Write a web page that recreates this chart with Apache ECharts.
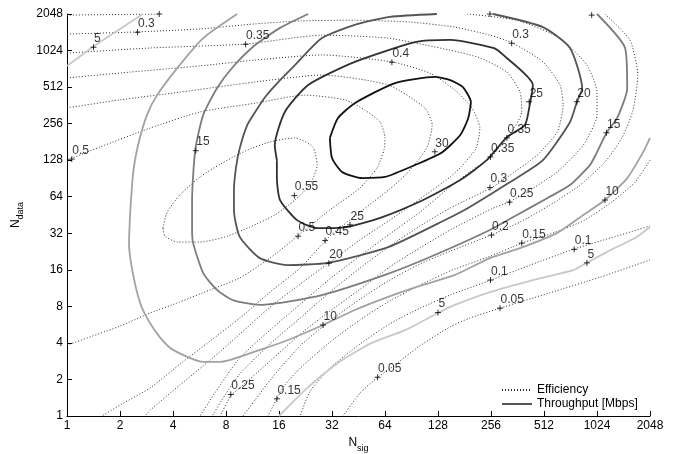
<!DOCTYPE html>
<html>
<head>
<meta charset="utf-8">
<script src="https://cdn.jsdelivr.net/npm/echarts@6/dist/echarts.min.js"></script>
<style>html,body{margin:0;padding:0;background:#fff}#c{width:683px;height:454px}</style>
</head>
<body>
<div id="c"></div>
<script>
// Axis tick labels (axes are in log2 units: value k means 2^k)
const xTickLabels = ['1','2','4','8','16','32','64','128','256','512','1024','2048'];
const yTickLabels = ['1','2','4','8','16','32','64','128','256','512','1024','2048'];

// Throughput contours [log2 Nsig, log2 Ndata]
const thr05a = [[0,9.58],[0.49,10.10],[1.0,10.59],[1.43,11.0]];
const thr05b = [[4.0,0],[4.49,0.71],[5.11,1.45],[5.75,2.0],[6.38,2.35],[7.0,2.82],[7.32,3.04],[7.98,3.39],[8.79,3.72],[9.55,3.99],[9.81,4.19],[10.19,4.49],[10.75,4.90],[11.0,5.17]];
const thr10 = [[3.21,11.0],[2.57,10.34],[2.08,9.52],[1.70,8.78],[1.51,8.24],[1.34,7.41],[1.25,6.68],[1.21,5.97],[1.19,5.50],[1.17,4.73],[1.23,4.0],[1.38,3.09],[1.53,2.63],[1.75,2.16],[2.0,1.81],[2.57,1.48],[2.89,1.48],[3.64,1.81],[4.17,2.08],[4.83,2.49],[5.43,2.90],[6.06,3.26],[6.70,3.58],[7.32,3.86],[7.98,4.32],[8.60,4.62],[9.25,5.01],[9.74,5.50],[10.15,5.91],[10.57,6.51],[10.87,7.22],[11.0,7.61]];
const thr15 = [[4.55,11.0],[4.02,10.62],[3.55,10.15],[3.13,9.55],[2.83,8.97],[2.57,8.24],[2.42,7.28],[2.36,5.91],[2.36,5.09],[2.38,4.73],[2.57,3.91],[2.83,3.45],[3.13,3.17],[3.64,3.04],[4.81,3.31],[6.0,3.86],[6.85,4.35],[7.98,5.09],[8.49,5.50],[9.06,5.96],[9.49,6.32],[9.87,6.87],[10.0,7.22],[10.19,7.77],[10.38,8.15],[10.57,8.97],[10.53,10.07],[10.0,11.0]];
const thr20 = [[6.98,11.0],[6.09,10.92],[5.43,10.70],[4.81,10.34],[4.30,9.60],[4.02,9.19],[3.74,8.73],[3.55,8.32],[3.40,7.96],[3.26,7.33],[3.19,6.81],[3.15,6.18],[3.15,5.64],[3.26,4.90],[3.64,4.32],[4.15,4.13],[4.92,4.19],[6.06,4.62],[7.17,5.39],[7.60,5.72],[8.36,6.40],[8.98,7.0],[9.49,8.04],[9.62,8.59],[9.72,8.97],[9.49,10.07],[8.98,10.64],[8.04,11.0]];
const thr25 = [[3.96,7.0],[3.92,7.41],[4.11,8.32],[4.55,9.06],[5.43,9.69],[6.57,10.23],[7.23,10.29],[8.04,10.07],[8.23,9.88],[8.79,9.06],[8.74,8.59],[8.64,7.96],[8.30,7.63],[7.92,7.0],[7.42,6.46],[6.72,5.91],[5.91,5.42],[5.28,5.17],[4.72,5.14],[4.34,5.36],[4.02,5.91],[3.96,6.51],[3.96,7.0]];
const thr30 = [[4.96,7.61],[5.0,7.06],[5.19,6.68],[5.57,6.51],[6.0,6.54],[6.57,6.87],[7.08,7.22],[7.42,7.69],[7.57,8.15],[7.62,8.59],[7.47,9.0],[7.23,9.19],[6.94,9.28],[6.19,9.11],[5.43,8.56],[5.11,8.15],[4.96,7.61]];

// Efficiency contours [log2 Nsig, log2 Ndata]
const eff055 = [[1.81,5.14],[1.89,5.58],[2.13,6.05],[2.51,6.54],[2.89,6.89],[3.36,7.25],[3.83,7.50],[4.30,7.61],[4.64,7.36],[4.72,6.87],[4.58,6.32],[4.30,5.91],[3.92,5.50],[3.45,5.17],[2.98,4.90],[2.51,4.76],[2.08,4.76],[1.85,4.92],[1.81,5.14]];
const eff050 = [[0,1.94],[1.0,2.46],[1.57,2.82],[2.13,3.12],[2.70,3.45],[3.26,3.78],[3.83,4.32],[4.40,4.98],[4.96,5.64],[5.53,6.24],[5.85,6.79],[5.98,7.28],[6.0,7.61],[5.91,8.04],[5.62,8.37],[5.25,8.65],[4.49,8.78],[3.55,8.56],[2.51,8.32],[1.57,7.88],[0.62,7.36],[0,7.0]];
const eff045 = [[0,8.43],[1.0,8.65],[2.13,8.86],[3.55,9.14],[4.81,9.33],[6.06,9.06],[6.75,8.43],[6.89,7.96],[6.81,7.41],[6.66,7.06],[6.38,6.59],[6.09,6.21],[5.53,5.58],[4.96,4.92],[4.40,4.05],[3.83,3.39],[3.26,2.68],[2.70,2.05],[2.13,1.42],[1.57,0.77],[1.0,0.30],[0.66,0]];
const eff040 = [[0,9.25],[1.19,9.41],[2.51,9.58],[3.55,9.74],[4.81,9.88],[6.13,9.69],[6.85,9.38],[7.32,8.92],[7.64,8.43],[7.79,7.88],[7.72,7.33],[7.45,6.84],[7.23,6.54],[6.66,5.94],[6.09,5.36],[5.53,4.82],[4.96,4.21],[4.40,3.61],[3.83,2.98],[3.26,2.24],[2.70,1.53],[2.13,0.85],[1.57,0.16],[1.47,0]];
const eff035 = [[0,9.93],[1.57,10.07],[3.38,10.18],[4.81,10.42],[6.06,10.34],[7.23,10.01],[7.79,9.80],[8.30,9.41],[8.55,8.86],[8.58,8.32],[8.45,7.91],[8.30,7.61],[8.0,7.09],[7.60,6.68],[7.23,6.27],[6.66,5.58],[6.09,4.98],[5.53,4.38],[4.96,3.75],[4.40,3.06],[3.83,2.35],[3.26,1.59],[2.89,0.85],[2.51,0]];
const eff030 = [[0,10.45],[1.32,10.51],[2.51,10.59],[3.55,10.73],[4.40,10.81],[5.43,10.83],[6.47,10.78],[7.32,10.64],[7.98,10.42],[8.40,10.21],[8.98,9.69],[9.30,9.06],[9.36,8.51],[9.25,7.77],[8.87,7.14],[8.36,6.59],[8.0,6.24],[7.23,5.69],[6.66,5.20],[6.09,4.65],[5.53,4.05],[4.96,3.39],[4.40,2.68],[3.83,1.97],[3.26,1.15],[2.98,0.57],[2.74,0]];
const eff025a = [[0,10.97],[1.75,11.0]];
const eff025b = [[7.55,11.0],[8.49,10.83],[9.30,10.34],[9.81,9.60],[10.0,8.86],[10.0,8.24],[9.74,7.41],[9.25,6.68],[8.68,6.13],[8.34,5.86],[8.0,5.66],[7.23,5.09],[6.66,4.60],[6.09,4.08],[5.53,3.47],[4.96,2.87],[4.40,2.24],[3.83,1.50],[3.26,0.77],[3.09,0.55],[2.89,0]];
const eff020 = [[10.15,11.0],[10.62,10.29],[10.77,9.33],[10.68,8.37],[10.47,7.61],[10.15,6.95],[9.68,6.32],[9.11,5.77],[8.55,5.31],[8.0,4.95],[7.23,4.51],[6.66,4.16],[6.09,3.72],[5.53,3.20],[4.96,2.60],[4.40,1.92],[3.83,0.98],[3.55,0.44],[3.32,0]];
const eff015 = [[11.0,7.0],[10.72,6.40],[10.28,5.86],[9.77,5.36],[9.21,5.03],[8.58,4.73],[8.0,4.38],[7.23,3.97],[6.66,3.58],[6.09,3.15],[5.53,2.63],[4.96,2.02],[4.40,1.31],[4.11,0.85],[3.96,0.47],[3.79,0]];
const eff010 = [[11.0,5.20],[10.25,4.87],[9.57,4.57],[8.74,4.13],[8.0,3.72],[7.23,3.31],[6.66,2.95],[6.09,2.52],[5.53,1.97],[4.96,1.31],[4.58,0.66],[4.40,0]];
const eff005 = [[11.0,4.27],[10.06,3.80],[9.11,3.37],[8.17,2.95],[7.60,2.68],[7.23,2.44],[6.66,1.92],[6.09,1.29],[5.87,1.07],[5.53,0.63],[5.21,0]];

// Contour labels [log2 Nsig, log2 Ndata, text]
const thrLabels = [[0.50,10.09,'5'],[7.0,2.83,'5'],[9.81,4.19,'5'],[4.83,2.49,'10'],[10.15,5.91,'10'],[2.43,7.26,'15'],[10.18,7.75,'15'],[4.94,4.18,'20'],[9.62,8.60,'20'],[5.34,5.23,'25'],[8.72,8.60,'25'],[6.94,7.23,'30']];
const effLabels = [[0.09,7.03,'0.5'],[1.33,10.50,'0.3'],[3.37,10.17,'0.35'],[6.13,9.68,'0.4'],[4.29,6.03,'0.55'],[4.36,4.92,'0.5'],[4.87,4.80,'0.45'],[8.39,10.20,'0.3'],[8.30,7.61,'0.35'],[7.99,7.09,'0.35'],[7.98,6.25,'0.3'],[8.35,5.85,'0.25'],[8.01,4.95,'0.2'],[8.58,4.73,'0.15'],[9.57,4.56,'0.1'],[7.99,3.72,'0.1'],[8.17,2.95,'0.05'],[5.86,1.06,'0.05'],[3.96,0.47,'0.15'],[3.09,0.59,'0.25']];
const edgeMarks = [[1.74,11.0,''],[7.98,11.0,''],[9.90,10.97,'']];

const FONT = '"Liberation Sans", Arial, Helvetica, sans-serif';
const EFF_COLOR = '#2e2e2e';
const EFF_DASH = [1, 2];
const LEG_THR_COLOR = '#555555';

function thrSeries(id, data, color) {
  return {name: id, type: 'line', data: data, symbol: 'none', smooth: 0.2, silent: true,
    itemStyle: {color: color}, lineStyle: {color: color, width: 1.8}, z: 3};
}
function effSeries(id, data) {
  return {name: id, type: 'line', data: data, symbol: 'none', smooth: 0.2, silent: true,
    itemStyle: {color: EFF_COLOR}, lineStyle: {color: EFF_COLOR, width: 1, type: EFF_DASH}, z: 2};
}
function labelSeries(id, data) {
  return {name: id, type: 'scatter', data: data, silent: true, z: 5,
    symbol: 'path://M0,4H8M4,0V8', symbolSize: 6,
    itemStyle: {color: 'rgba(0,0,0,0)', borderColor: '#000', borderWidth: 1},
    label: {show: true, formatter: p => p.data[2], position: [4, -11],
      fontSize: 12, fontFamily: FONT, color: '#000'}};
}

const series = [
  {name: 'Efficiency', type: 'line', data: [], symbol: 'none',
    itemStyle: {color: EFF_COLOR}, lineStyle: {color: EFF_COLOR, width: 1, type: EFF_DASH}},
  {name: 'Throughput [Mbps]', type: 'line', data: [], symbol: 'none',
    itemStyle: {color: LEG_THR_COLOR}, lineStyle: {color: LEG_THR_COLOR, width: 2}},
  effSeries('e055', eff055), effSeries('e050', eff050), effSeries('e045', eff045),
  effSeries('e040', eff040), effSeries('e035', eff035), effSeries('e030', eff030),
  effSeries('e025a', eff025a), effSeries('e025b', eff025b), effSeries('e020', eff020),
  effSeries('e015', eff015), effSeries('e010', eff010), effSeries('e005', eff005),
  thrSeries('t05a', thr05a, '#c8c8c8'), thrSeries('t05b', thr05b, '#c8c8c8'),
  thrSeries('t10', thr10, '#a2a2a2'), thrSeries('t15', thr15, '#7c7c7c'),
  thrSeries('t20', thr20, '#555555'), thrSeries('t25', thr25, '#303030'),
  thrSeries('t30', thr30, '#111111'),
  labelSeries('lt', thrLabels), labelSeries('le', effLabels), labelSeries('lm', edgeMarks)
];

const axisCommon = {
  type: 'value', min: 0, max: 11, interval: 1,
  splitLine: {show: false},
  axisLine: {show: true, onZero: false, lineStyle: {color: '#000', width: 1}},
  axisTick: {show: true, inside: true, length: 5, lineStyle: {color: '#000'}},
  nameLocation: 'middle'
};

const chart = echarts.init(document.getElementById('c'), null, {renderer: 'canvas'});
chart.setOption({
  animation: false,
  backgroundColor: '#fff',
  grid: {left: 67, right: 33, top: 14, bottom: 38, containLabel: false, outerBoundsMode: 'none'},
  legend: {
    data: ['Efficiency', 'Throughput [Mbps]'],
    orient: 'vertical', left: 496, top: 379,
    itemWidth: 30, itemHeight: 14, itemGap: 2,
    itemStyle: {opacity: 0},
    textStyle: {fontSize: 12, fontFamily: FONT, color: '#000'},
    selectedMode: false
  },
  xAxis: Object.assign({}, axisCommon, {
    axisLabel: {formatter: v => xTickLabels[v], fontSize: 12, fontFamily: FONT, color: '#000', margin: 4},
    name: '{n|N}{s|sig}', nameGap: 18,
    nameTextStyle: {rich: {
      n: {fontSize: 12, fontFamily: FONT, color: '#000', verticalAlign: 'top', lineHeight: 16},
      s: {fontSize: 9, fontFamily: FONT, color: '#000', verticalAlign: 'bottom', lineHeight: 16}}}
  }),
  yAxis: Object.assign({}, axisCommon, {
    axisLabel: {formatter: v => yTickLabels[v], fontSize: 12, fontFamily: FONT, color: '#000', margin: 4},
    name: '{n|N}{s|data}', nameGap: 33, nameRotate: 90,
    nameTextStyle: {rich: {
      n: {fontSize: 12, fontFamily: FONT, color: '#000', verticalAlign: 'top', lineHeight: 16},
      s: {fontSize: 9, fontFamily: FONT, color: '#000', verticalAlign: 'bottom', lineHeight: 16}}}
  }),
  series: series
});
</script>
</body>
</html>
